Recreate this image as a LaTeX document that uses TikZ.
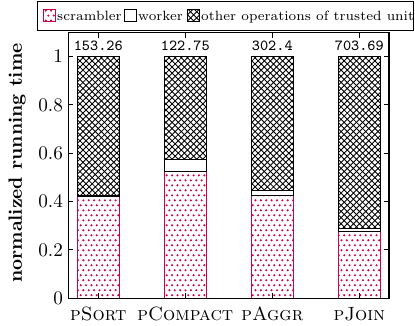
\documentclass[tikz,border=0pt]{standalone}
\usepackage{amssymb}
\usepackage{amsmath}
\usepackage{tikz}
\usetikzlibrary{%
	patterns,%
	positioning,%
	fit
}
\definecolor{scramblered}{RGB}{204,0,68}

% Staggered dots and a slightly heavier crosshatch
\pgfdeclarepatternformonly{scrdots}{\pgfqpoint{-1pt}{-1pt}}{\pgfqpoint{2pt}{4pt}}{\pgfqpoint{2.8pt}{5.2pt}}{%
	\pgfpathcircle{\pgfqpoint{0pt}{0pt}}{.6pt}%
	\pgfpathcircle{\pgfqpoint{1.4pt}{2.6pt}}{.6pt}%
	\pgfusepath{fill}}
\pgfdeclarepatternformonly{othhatch}{\pgfqpoint{-1pt}{-1pt}}{\pgfqpoint{4.2pt}{4.2pt}}{\pgfqpoint{3.2pt}{3.2pt}}{%
	\pgfsetlinewidth{0.45pt}%
	\pgfpathmoveto{\pgfqpoint{0pt}{0pt}}\pgfpathlineto{\pgfqpoint{3.3pt}{3.3pt}}%
	\pgfpathmoveto{\pgfqpoint{0pt}{3.2pt}}\pgfpathlineto{\pgfqpoint{3.3pt}{-0.1pt}}%
	\pgfusepath{stroke}}

\begin{document}
\begin{tikzpicture}[x=45.3pt, y=125.8pt,
		scrbar/.style={pattern=scrdots, pattern color=scramblered, draw=scramblered, line width=0.4pt},
		wrkbar/.style={fill=white, draw=black, line width=0.4pt},
		othbar/.style={pattern=othhatch, pattern color=black, draw=black, line width=0.4pt},
		legsq/.style={minimum width=6.2pt, minimum height=6.2pt, inner sep=0pt},
		legtxt/.style={font=\scriptsize, inner sep=0.8pt, text height=1.5ex, text depth=0.25ex},
		valtxt/.style={font=\footnotesize\ttfamily, inner sep=2.9pt}]
			\useasboundingbox (-1.130,-0.1118) rectangle (3.640,1.234);
			
			% Draw the ticks on all four sides
			\foreach \y in {0.2,0.4,0.6,0.8,1} {
				\draw (-0.341,\y) -- ++(2.5pt,0);
				\draw (3.341,\y) -- ++(-2.5pt,0);
			}
			\foreach \i in {0,1,2,3} {
				\draw (\i,0) -- ++(0,2.8pt);
				\draw (\i,1.101) -- ++(0,-2.8pt);
			}
			
			% Draw the stacked bars with their totals and names
			\foreach \i/\scr/\wrk/\lbl/\name in {0/0.4195/0.004/153.26/pSort, 1/0.523/0.053/122.75/pCompact, 2/0.4265/0.018/302.4/pAggr, 3/0.2745/0.014/703.69/pJoin} {
				\pgfmathsetmacro{\wtop}{\scr+\wrk}
				\draw[scrbar] (\i-0.24,0) rectangle (\i+0.24,\scr);
				\draw[wrkbar] (\i-0.24,\scr) rectangle (\i+0.24,\wtop);
				\draw[othbar] (\i-0.24,\wtop) rectangle (\i+0.24,1);
				\node[valtxt, above] (val\i) at (\i,1) {\lbl};
				\node[below, yshift=-1.2pt] (name\i) at (\i,0) {\textsc{\name}};
			}
			
			% Draw the axis box and the y labels
			\draw[line width=0.6pt] (-0.341,0) rectangle (3.341,1.101);
			\foreach \y [count=\k] in {0,0.2,0.4,0.6,0.8,1} {
				\node[left, inner sep=2.8pt] (ytick\k) at (-0.341,\y) {\y};
			}
			\node[rotate=90, font=\bfseries] (ylab) at (-0.934,0.559) {normalized running time};
			
			% Draw the legend
			\draw[fill=white] (-0.697,1.110) rectangle (3.617,1.230);
			\node[legsq, scrbar] (lsq1) at (-0.567,1.170) {};
			\node[legtxt, right=0pt of lsq1] (ltx1) {scrambler};
			\node[legsq, wrkbar] (lsq2) at (0.364,1.170) {};
			\node[legtxt, right=0pt of lsq2] (ltx2) {worker};
			\node[legsq, othbar] (lsq3) at (1.088,1.170) {};
			\node[legtxt, right=0pt of lsq3] (ltx3) {other operations of trusted unit};
		\end{tikzpicture}
\end{document}
